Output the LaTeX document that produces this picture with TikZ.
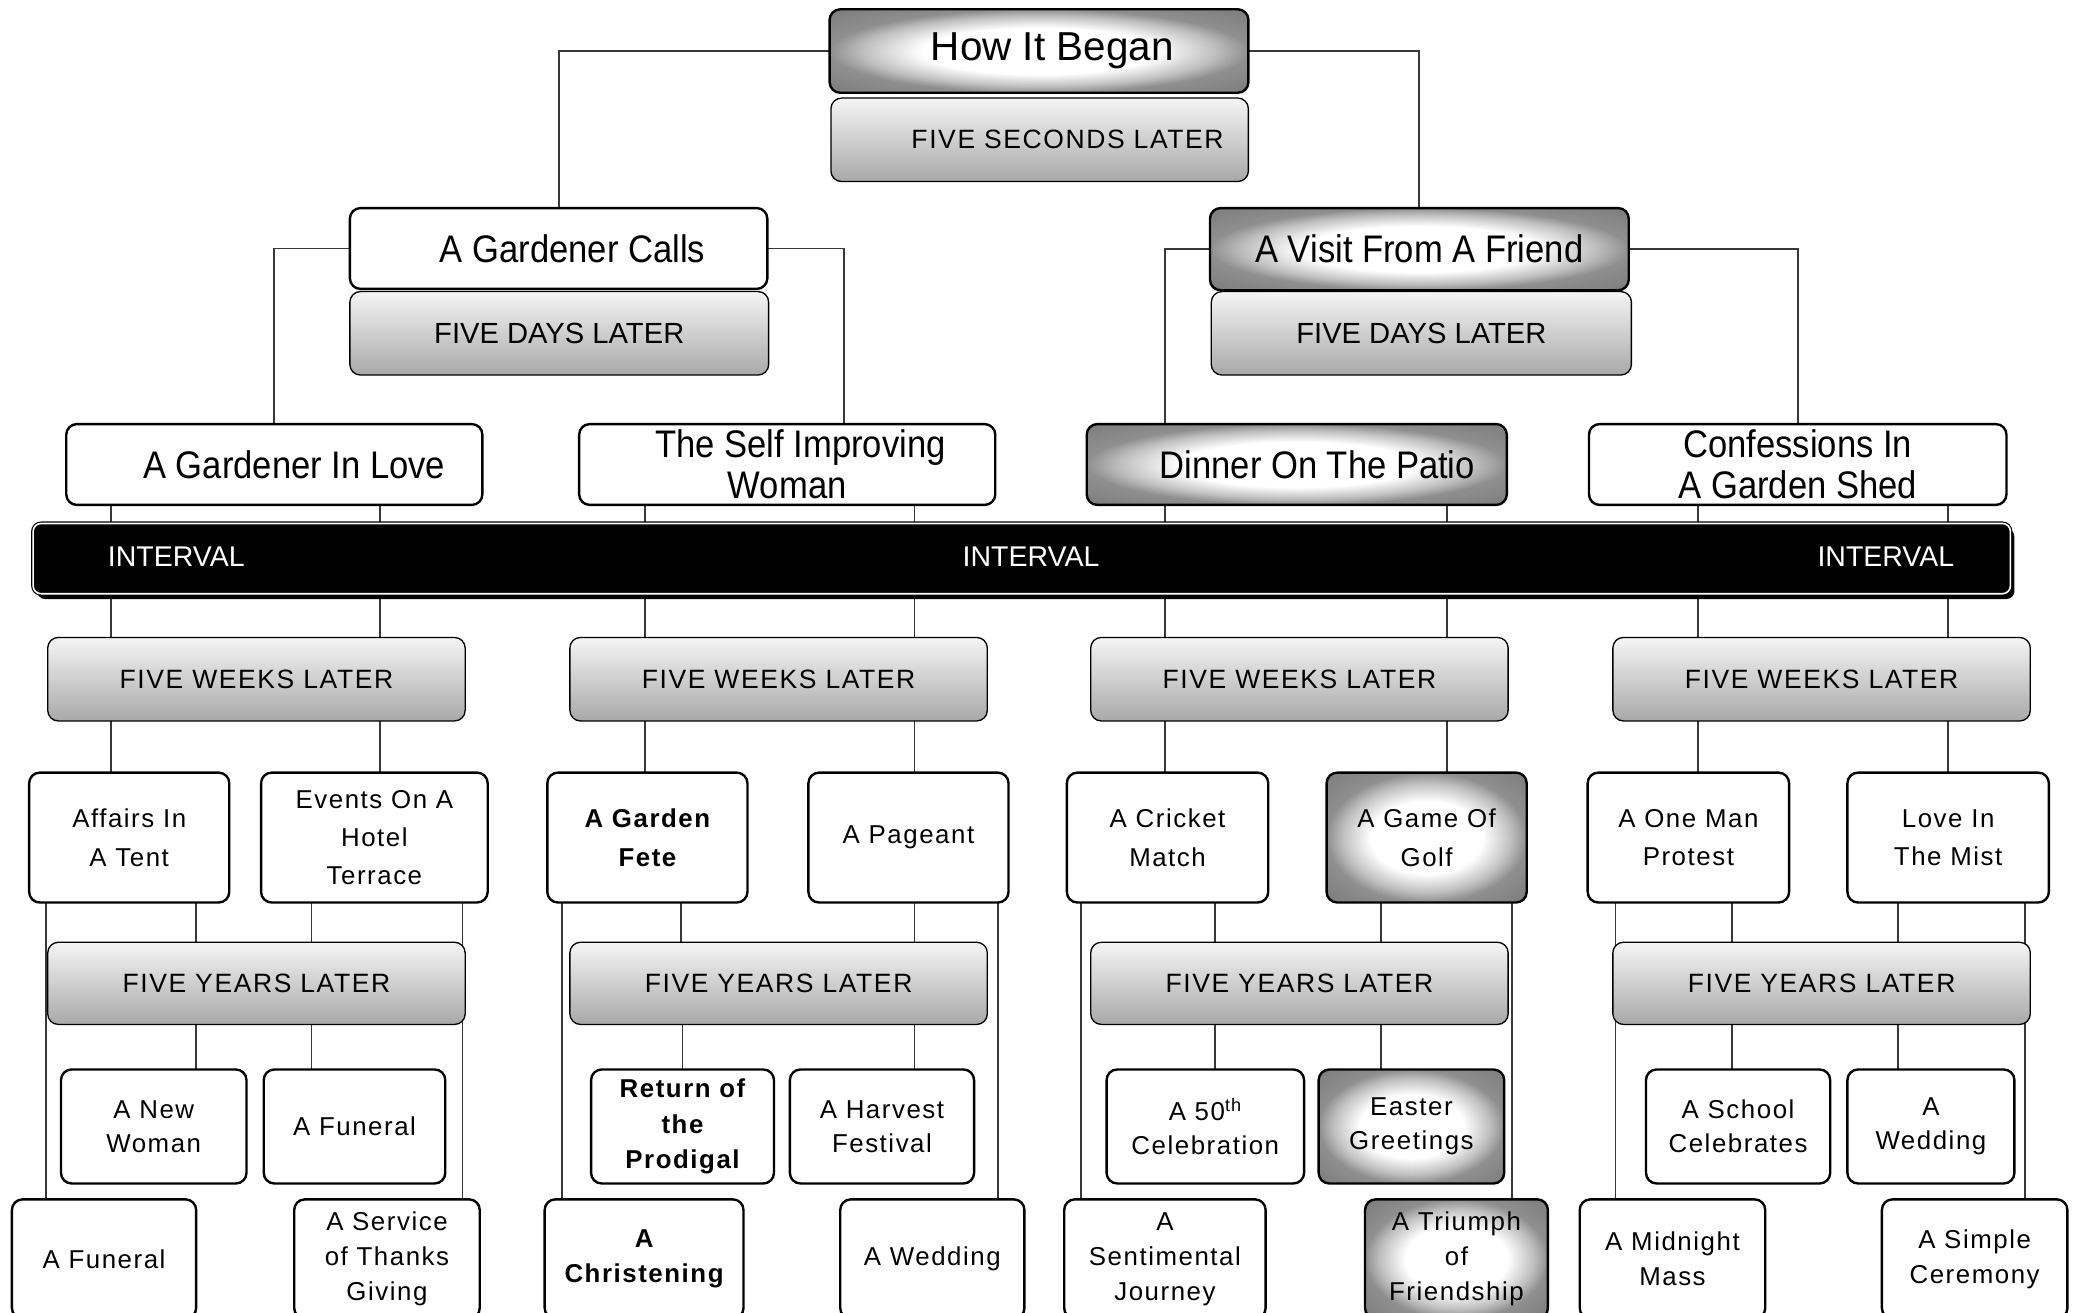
\documentclass[tikz,border=0pt]{standalone}
\usepackage{fontspec}
\setmainfont{Liberation Sans}
\newfontfamily\bandfont{Liberation Sans}
\newfontfamily\titlefont[FakeStretch=0.9]{Liberation Sans}
\newfontfamily\plainfont[LetterSpace=6]{Liberation Sans}
\usetikzlibrary{shadows,backgrounds}
\pgfdeclareradialshading{glow}{\pgfpointorigin}{color(0bp)=(white); color(14bp)=(white); color(21bp)=(black!25); color(25bp)=(black!44); color(36bp)=(black!52); color(50bp)=(black!52)}

\begin{document}
\begin{tikzpicture}[x=1pt,y=-1pt,
  sz/.style 2 args={minimum width=#1pt,minimum height=#2pt},
  box/.style={draw=black,line width=1.8pt,rounded corners=8pt,fill=white,inner sep=0pt,outer sep=0pt,align=center},
  dark/.style={box,shading=glow},
  light/.style={box,line width=1pt,top color=gray!8,bottom color=gray!68},
  band/.style={fill=black,draw=black,double=white,double distance=1.2pt,line width=0.9pt,rounded corners=6pt,inner sep=0pt,outer sep=0pt,drop shadow={shadow xshift=3pt,shadow yshift=-4pt,fill=black,opacity=1}},
  big/.style={font=\titlefont\fontsize{29}{31}\selectfont},
  later/.style={font=\plainfont\fontsize{20}{24}\selectfont},
  days/.style={font=\bandfont\fontsize{22}{26}\selectfont},
  small/.style={font=\plainfont\fontsize{19.5}{29}\selectfont},
  smaller/.style={font=\plainfont\fontsize{19.5}{25.5}\selectfont},
  foot/.style={font=\plainfont\fontsize{19.5}{26.5}\selectfont},
  ivtext/.style={text=white,font=\bandfont\fontsize{21.5}{26}\selectfont},
  link/.style={draw=black!78,line width=1.4pt}]
\useasboundingbox (0,0) rectangle (1568,990);
\clip (0,0) rectangle (1568,990);

% top of the tree
\node[dark,sz={316}{63},font=\bandfont\fontsize{30.5}{36}\selectfont] (began) at (784,38.5) {\hspace*{20pt}How It Began};
\node[light,sz={315}{63},later] (fivesec) at (784.5,105.5) {\hspace*{42pt}FIVE SECONDS LATER};

\node[box,sz={315}{61},big] (calls) at (421.5,187.5) {\hspace*{21pt}A Gardener Calls};
\node[light,sz={316}{63},days] (daysA) at (422,251.5) {FIVE DAYS LATER};
\node[dark,sz={316}{62},big] (visit) at (1071,188) {A Visit From A Friend};
\node[light,sz={317}{63},days] (daysB) at (1072.5,251.5) {FIVE DAYS LATER};

\node[box,sz={314}{61},big] (inlove) at (207,350.5) {\hspace*{30pt}A Gardener In Love};
\node[box,sz={314}{61},big] (selfimp) at (594,350.5) {\hspace*{20pt}The Self Improving\\Woman};
\node[dark,sz={317}{61},big] (dinner) at (978.5,350.5) {\hspace*{31pt}Dinner On The Patio};
\node[box,sz={315}{61},big] (confess) at (1356.5,350.5) {Confessions In\\A Garden Shed};

% interval band
\node[band,sz={1492}{53}] (interval) at (771,421.5) {};
\node[ivtext] (ivA) at (133,420) {INTERVAL};
\node[ivtext] (ivB) at (778,420) {INTERVAL};
\node[ivtext] (ivC) at (1423,420) {INTERVAL};

\node[light,sz={315}{63},later] (weeksA) at (193.5,512.5) {FIVE WEEKS LATER};
\node[light,sz={315}{63},later] (weeksB) at (587.5,512.5) {FIVE WEEKS LATER};
\node[light,sz={315}{63},later] (weeksC) at (980.5,512.5) {FIVE WEEKS LATER};
\node[light,sz={315}{63},later] (weeksD) at (1374.5,512.5) {FIVE WEEKS LATER};

\node[box,sz={151}{98},small] (affairs) at (97.5,632) {Affairs In\\A Tent};
\node[box,sz={171}{98},small] (events) at (282.5,632) {Events On A\\Hotel\\Terrace};
\node[box,sz={151}{98},small] (fete) at (488.5,632) {\bfseries A Garden\\\bfseries Fete};
\node[box,sz={151}{98},small] (pageant) at (685.5,632) {A Pageant};
\node[box,sz={152}{98},small] (cricket) at (881,632) {A Cricket\\Match};
\node[dark,sz={151}{98},small] (golf) at (1076.5,632) {A Game Of\\Golf};
\node[box,sz={152}{98},small] (oneman) at (1274,632) {A One Man\\Protest};
\node[box,sz={152}{98},small] (lovemist) at (1470,632) {Love In\\The Mist};

\node[light,sz={315}{62},later] (yearsA) at (193.5,742) {FIVE YEARS LATER};
\node[light,sz={315}{62},later] (yearsB) at (587.5,742) {FIVE YEARS LATER};
\node[light,sz={315}{62},later] (yearsC) at (980.5,742) {FIVE YEARS LATER};
\node[light,sz={315}{62},later] (yearsD) at (1374.5,742) {FIVE YEARS LATER};

\node[box,sz={140}{86},smaller] (newwoman) at (116,850) {A New\\Woman};
\node[box,sz={137}{86},smaller] (funeralA) at (267.5,850) {A Funeral};
\node[box,sz={138}{86},foot] (prodigal) at (515,850) {\bfseries Return of\\\bfseries the\\\bfseries Prodigal};
\node[box,sz={139}{86},smaller] (harvest) at (665.5,850) {A Harvest\\Festival};
\node[box,sz={149}{86},smaller] (fiftieth) at (909.5,850) {A 50\textsuperscript{th}\\Celebration};
\node[dark,sz={140}{86},smaller] (easter) at (1065,850) {Easter\\Greetings};
\node[box,sz={139}{86},smaller] (school) at (1311.5,850) {A School\\Celebrates};
\node[box,sz={126}{86},smaller] (weddingA) at (1457,850) {A\\Wedding};

\node[box,sz={139}{90},foot] (funeralB) at (78.5,950) {A Funeral};
\node[box,sz={140}{90},foot] (service) at (292,950) {A Service\\of Thanks\\Giving};
\node[box,sz={150}{90},foot] (christening) at (486,950) {\bfseries A\\\bfseries Christening};
\node[box,sz={139}{90},foot] (weddingB) at (703.5,950) {A Wedding};
\node[box,sz={152}{90},foot] (sentimental) at (879,950) {A\\Sentimental\\Journey};
\node[dark,sz={138}{90},foot] (triumph) at (1099,950) {A Triumph\\of\\Friendship};
\node[box,sz={140}{90},foot] (midnight) at (1262,950) {A Midnight\\Mass};
\node[box,sz={140}{90},foot] (simple) at (1490,950) {A Simple\\Ceremony};

% connectors behind the boxes
\begin{scope}[on background layer]
\fill[white] (0,0) rectangle (1568,990);
\draw[link] (began.west) -| (calls.north);
\draw[link] (began.east) -| (visit.north);
\draw[link] (calls.west) -| (inlove.north);
\draw[link] (calls.east) -| (637,0 |- selfimp.north);
\draw[link] (visit.west) -| (879,0 |- dinner.north);
\draw[link] (visit.east) -| (confess.north);

\draw[link] (84,0 |- inlove.south) -- (84,0 |- interval.north);
\draw[link] (287,0 |- inlove.south) -- (287,0 |- interval.north);
\draw[link] (487,0 |- selfimp.south) -- (487,0 |- interval.north);
\draw[link] (690,0 |- selfimp.south) -- (690,0 |- interval.north);
\draw[link] (879,0 |- dinner.south) -- (879,0 |- interval.north);
\draw[link] (1092,0 |- dinner.south) -- (1092,0 |- interval.north);
\draw[link] (1281,0 |- confess.south) -- (1281,0 |- interval.north);
\draw[link] (1470,0 |- confess.south) -- (1470,0 |- interval.north);

\draw[link] (84,0 |- interval.south) -- (84,0 |- weeksA.north);
\draw[link] (287,0 |- interval.south) -- (287,0 |- weeksA.north);
\draw[link] (487,0 |- interval.south) -- (487,0 |- weeksB.north);
\draw[link] (690,0 |- interval.south) -- (690,0 |- weeksB.north);
\draw[link] (879,0 |- interval.south) -- (879,0 |- weeksC.north);
\draw[link] (1092,0 |- interval.south) -- (1092,0 |- weeksC.north);
\draw[link] (1281,0 |- interval.south) -- (1281,0 |- weeksD.north);
\draw[link] (1470,0 |- interval.south) -- (1470,0 |- weeksD.north);

\draw[link] (84,0 |- weeksA.south) -- (84,0 |- affairs.north);
\draw[link] (287,0 |- weeksA.south) -- (287,0 |- events.north);
\draw[link] (487,0 |- weeksB.south) -- (487,0 |- fete.north);
\draw[link] (690,0 |- weeksB.south) -- (690,0 |- pageant.north);
\draw[link] (879,0 |- weeksC.south) -- (879,0 |- cricket.north);
\draw[link] (1092,0 |- weeksC.south) -- (1092,0 |- golf.north);
\draw[link] (1281,0 |- weeksD.south) -- (1281,0 |- oneman.north);
\draw[link] (1470,0 |- weeksD.south) -- (1470,0 |- lovemist.north);

\draw[link] (148,0 |- affairs.south) -- (148,0 |- yearsA.north);
\draw[link] (235,0 |- events.south) -- (235,0 |- yearsA.north);
\draw[link] (514,0 |- fete.south) -- (514,0 |- yearsB.north);
\draw[link] (690,0 |- pageant.south) -- (690,0 |- yearsB.north);
\draw[link] (917,0 |- cricket.south) -- (917,0 |- yearsC.north);
\draw[link] (1042,0 |- golf.south) -- (1042,0 |- yearsC.north);
\draw[link] (1307,0 |- oneman.south) -- (1307,0 |- yearsD.north);
\draw[link] (1432,0 |- lovemist.south) -- (1432,0 |- yearsD.north);

\draw[link] (148,0 |- yearsA.south) -- (148,0 |- newwoman.north);
\draw[link] (235,0 |- yearsA.south) -- (235,0 |- funeralA.north);
\draw[link] (515,0 |- yearsB.south) -- (515,0 |- prodigal.north);
\draw[link] (690,0 |- yearsB.south) -- (690,0 |- harvest.north);
\draw[link] (917,0 |- yearsC.south) -- (917,0 |- fiftieth.north);
\draw[link] (1042,0 |- yearsC.south) -- (1042,0 |- easter.north);
\draw[link] (1307,0 |- yearsD.south) -- (1307,0 |- school.north);
\draw[link] (1432,0 |- yearsD.south) -- (1432,0 |- weddingA.north);

\draw[link] (35,0 |- affairs.south) -- (35,0 |- funeralB.north);
\draw[link] (349,0 |- events.south) -- (349,0 |- service.north);
\draw[link] (424,0 |- fete.south) -- (424,0 |- christening.north);
\draw[link] (753,0 |- pageant.south) -- (753,0 |- weddingB.north);
\draw[link] (816,0 |- cricket.south) -- (816,0 |- sentimental.north);
\draw[link] (1141,0 |- golf.south) -- (1141,0 |- triumph.north);
\draw[link] (1219,0 |- oneman.south) -- (1219,0 |- midnight.north);
\draw[link] (1528,0 |- lovemist.south) -- (1528,0 |- simple.north);
\end{scope}
\end{tikzpicture}
\end{document}
